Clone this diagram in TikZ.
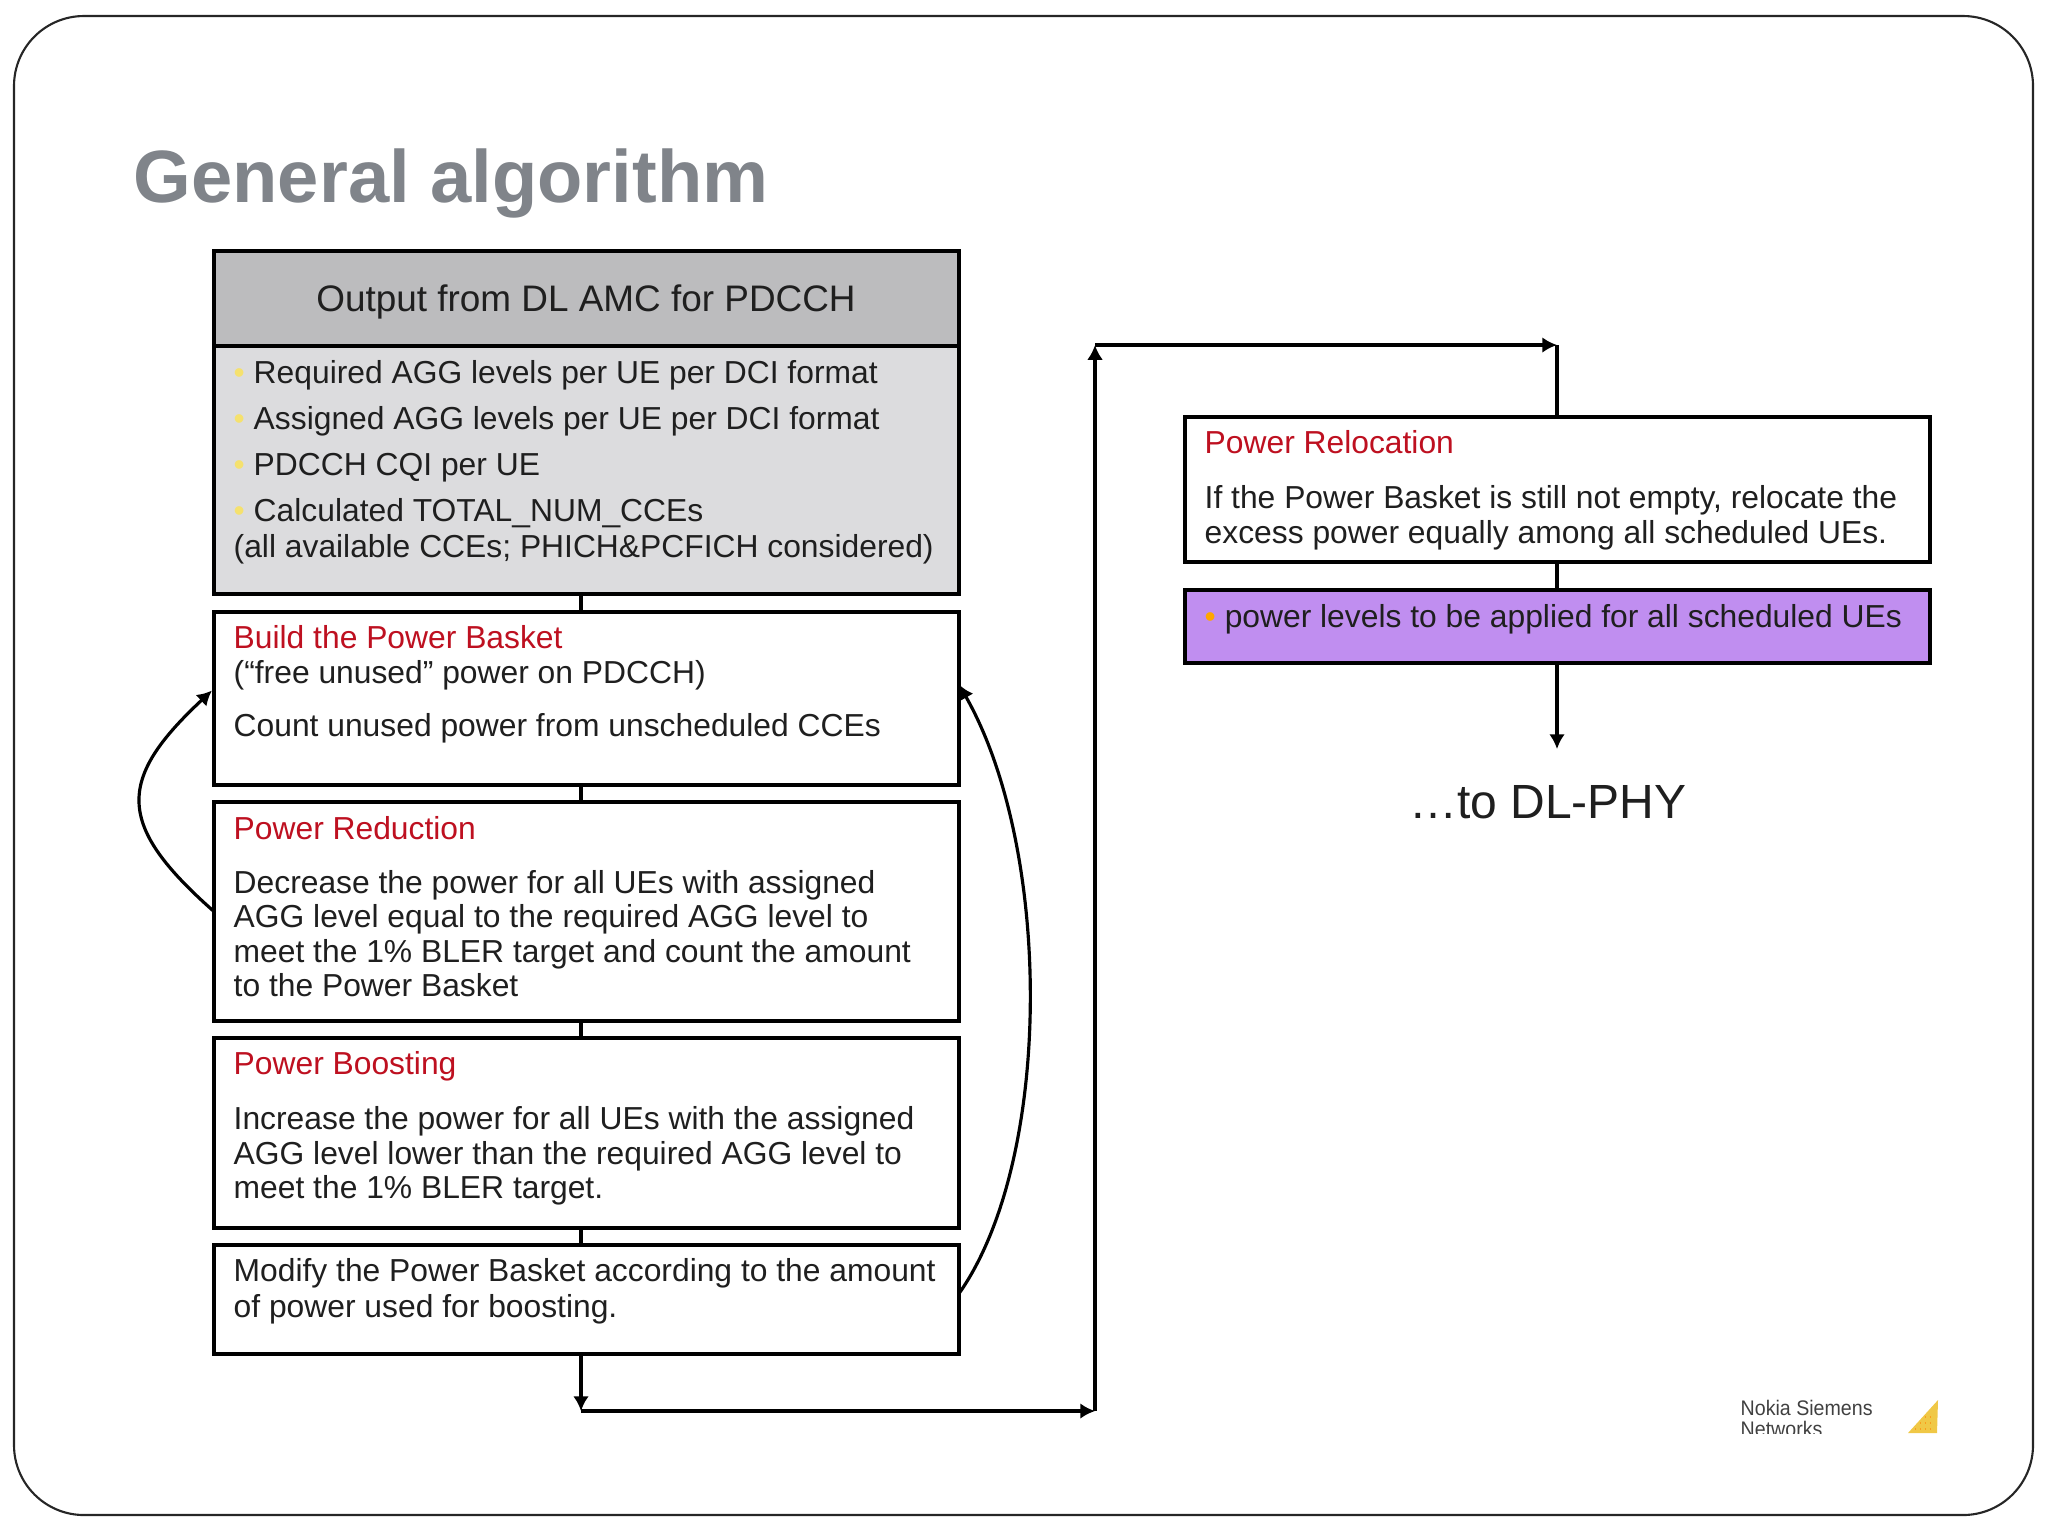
\documentclass[tikz,border=0pt]{standalone}
\usepackage{fontspec}
\setmainfont{Liberation Sans}
\newfontfamily\logofont[FakeStretch=0.93]{Liberation Sans}
\usetikzlibrary{arrows.meta,calc}
\definecolor{headgray}{RGB}{188,188,190}
\definecolor{listgray}{RGB}{220,220,222}
\definecolor{relocpurple}{RGB}{192,142,240}
\definecolor{titlered}{RGB}{190,16,32}
\definecolor{titlegray}{RGB}{128,132,138}
\definecolor{bulyellow}{RGB}{245,225,110}
\definecolor{logoyellow}{RGB}{240,200,70}
\newcommand{\bul}[1][bulyellow]{\makebox[5.7pt][l]{\color{#1}\textbullet}}
\newcommand{\redtitle}[1]{\textcolor{titlered}{#1}}
\tikzset{
  stepbox/.style={draw=black,line width=1pt,fill=white,anchor=north west,inner sep=0pt,outer sep=0pt},
  boxtext/.style={anchor=north west,inner sep=0pt,align=left,text=black!88,
    font=\fontsize{9.05}{9.7}\selectfont},
}
\begin{document}
\begin{tikzpicture}[x=0.1mm,y=-0.1mm,>={Latex[length=4.2pt,width=4.5pt]}]
\useasboundingbox (0,0) rectangle (2048,1536);
\draw[black!85,line width=0.6pt,rounded corners=7mm] (14,16) rectangle (2033,1515);
% ---------------- title ----------------
\node[anchor=west,inner sep=0pt,text=titlegray,font=\fontsize{21.1}{24}\selectfont\bfseries] (title) at (133,183) {General algorithm};
% ---------------- LEFT: boxes ----------------
\node[stepbox,fill=headgray,minimum width=745*0.1mm,minimum height=95*0.1mm] (output) at (214,251) {};
\node[stepbox,fill=listgray,minimum width=745*0.1mm,minimum height=248*0.1mm] (outlist) at (214,346) {};
\node[stepbox,minimum width=745*0.1mm,minimum height=173*0.1mm] (build) at (214,612) {};
\node[stepbox,minimum width=745*0.1mm,minimum height=219*0.1mm] (reduction) at (214,802) {};
\node[stepbox,minimum width=745*0.1mm,minimum height=190*0.1mm] (boosting) at (214,1038) {};
\node[stepbox,minimum width=745*0.1mm,minimum height=109*0.1mm] (modify) at (214,1245) {};
\node[font=\fontsize{10.5}{12}\selectfont,text=black!88,inner sep=0pt] (outputtext) at (586,302) {Output from DL AMC for PDCCH};
\node[boxtext] (listtext) at (233,360) {\bul Required AGG levels per UE per DCI format\\[3.4pt]
  \bul Assigned AGG levels per UE per DCI format\\[3.4pt]
  \bul PDCCH CQI per UE\\[3.4pt]
  \bul Calculated TOTAL\_NUM\_CCEs\\[0.5pt]
  (all available CCEs; PHICH\&PCFICH considered)};
\node[boxtext] (buildtext) at (233,625) {\redtitle{Build the Power Basket}\\[0.2pt]
  (“free unused” power on PDCCH)\\[5.5pt]
  Count unused power from unscheduled CCEs};
\node[boxtext] (reductiontext) at (233,816) {\redtitle{Power Reduction}\\[5.7pt]
  Decrease the power for all UEs with assigned\\
  AGG level equal to the required AGG level to\\
  meet the 1\% BLER target and count the amount\\
  to the Power Basket};
\node[boxtext] (boostingtext) at (233,1051) {\redtitle{Power Boosting}\\[6pt]
  Increase the power for all UEs with the assigned\\
  AGG level lower than the required AGG level to\\
  meet the 1\% BLER target.};
\node[boxtext] (modifytext) at (233,1258) {Modify the Power Basket according to the amount\\[0.4pt]
  of power used for boosting.};
% ---------------- RIGHT: boxes ----------------
\node[stepbox,minimum width=745*0.1mm,minimum height=145*0.1mm] (relocation) at (1185,417) {};
\node[stepbox,fill=relocpurple,minimum width=745*0.1mm,minimum height=73*0.1mm] (levels) at (1185,590) {};
\node[boxtext] (relocationtext) at (1204,430) {\redtitle{Power Relocation}\\[6pt]
  If the Power Basket is still not empty, relocate the\\
  excess power equally among all scheduled UEs.};
\node[boxtext] (levelstext) at (1204,604) {\bul[orange!70!yellow]power levels to be applied for all scheduled UEs};
\node[anchor=north,inner sep=0pt,font=\fontsize{13.65}{15}\selectfont,text=black!88] (tophy) at (1548,785) {…to DL-PHY};
% ---------------- connectors ----------------
\coordinate (down) at (581,1411);
\coordinate (up) at (1095,1411);
\coordinate (topleft) at (1095,345);
\coordinate (topright) at (1557,345);
\coordinate (phyend) at (1557,749);
\draw[line width=1pt] (outlist.south -| down) -- (build.north -| down);
\draw[line width=1pt] (build.south -| down) -- (reduction.north -| down);
\draw[line width=1pt] (reduction.south -| down) -- (boosting.north -| down);
\draw[line width=1pt] (boosting.south -| down) -- (modify.north -| down);
\draw[->,line width=1pt] (modify.south -| down) -- (down);
\draw[->,line width=1pt] (down) -- (up);
\draw[->,line width=1pt] (up) -- (topleft);
\draw[->,line width=1pt] (topleft) -- (topright);
\draw[line width=1pt] (relocation.north -| topright) -- (topright);
\draw[line width=1pt] (relocation.south -| topright) -- (levels.north -| topright);
\draw[->,line width=1pt] (levels.south -| topright) -- (phyend);
% feedback curves
\draw[->,line width=0.9pt] (reduction.west) .. controls (116,825) and (116,780) .. ($(build.west)+(-2,-8)$);
\draw[->,line width=0.9pt] ($(modify.east)+(0,-6)$) .. controls (1053,1160) and (1053,850) .. ($(build.east)+(0,-14)$);
% ---------------- logo ----------------
\begin{scope}
  \clip (1700,1380) rectangle (1950,1433);
  \node[anchor=north west,inner sep=0pt,align=left,text=black!75,
    font=\logofont\fontsize{6}{6}\selectfont] (logo) at (1740,1399) {Nokia Siemens\\Networks};
  \fill[logoyellow] (1908,1433) -- (1938,1400) -- (1937,1433) -- cycle;
  \clip (1908,1433) -- (1938,1400) -- (1937,1433) -- cycle;
  \foreach \y in {1417,1423,1429}
    \draw[orange!60!logoyellow,line width=0.4pt,densely dotted] (1905,\y) -- (1932,\y);
\end{scope}
\end{tikzpicture}
\end{document}
